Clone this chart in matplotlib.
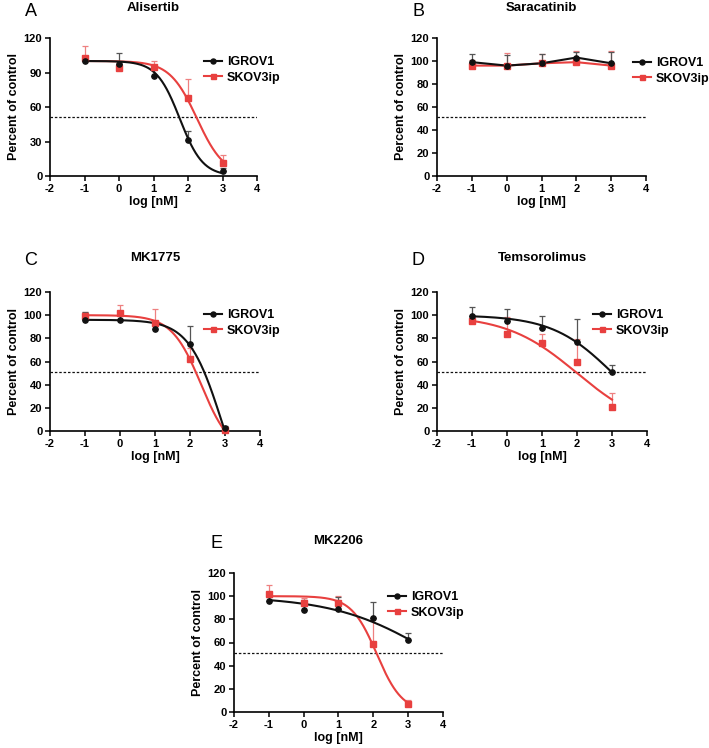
import matplotlib
matplotlib.use("Agg")
import matplotlib.pyplot as plt
import numpy as np

plt.rcParams["font.family"] = ["Liberation Sans", "DejaVu Sans"]
plt.rcParams["font.weight"] = "bold"
plt.rcParams["axes.labelweight"] = "bold"
plt.rcParams["axes.unicode_minus"] = False

W, H = 709, 748

# ---------------- data ----------------
LOG_DOSE = [-1, 0, 1, 2, 3]
SERIES = ["IGROV1", "SKOV3ip"]

ALI_IGROV1 = [100, 97, 87, 31, 4]
ALI_IGROV1_SD = [4, 10, 7, 8, 3]
ALI_SKOV3IP = [103, 94, 95, 68, 11]
ALI_SKOV3IP_SD = [10, 3, 5, 16, 7]

SAR_IGROV1 = [99, 96, 98, 103, 98]
SAR_IGROV1_SD = [7, 9, 8, 5, 10]
SAR_SKOV3IP = [96, 96, 98, 99, 96]
SAR_SKOV3IP_SD = [5, 11, 8, 10, 13]

MK1775_IGROV1 = [96, 96, 88, 75, 3]
MK1775_IGROV1_SD = [7, 8, 3, 16, 1]
MK1775_SKOV3IP = [99, 102, 93, 62, 0.5]
MK1775_SKOV3IP_SD = [4, 7, 12, 10, 1]

TEM_IGROV1 = [99, 95, 89, 77, 51]
TEM_IGROV1_SD = [8, 10, 10, 20, 6]
TEM_SKOV3IP = [95, 84, 76, 60, 21]
TEM_SKOV3IP_SD = [4, 14, 8, 19, 12]

MK2206_IGROV1 = [96, 88, 89, 81, 62]
MK2206_IGROV1_SD = [3, 9, 10, 14, 6]
MK2206_SKOV3IP = [102, 94, 94, 59, 7]
MK2206_SKOV3IP_SD = [8, 4, 6, 22, 3]

# fitted dose-response parameters: (top, bottom, logIC50, hill slope)
ALI_FIT = [(100, 0, 1.76, 1.3), (100, 0, 2.26, 1.1)]
MK1775_FIT = [(96, -80, 2.91, 0.92), (100, -20, 2.32, 1.03)]
TEM_FIT = [(100, 0, 3.02, 0.5), (100, 0, 2.0, 0.43)]
MK2206_FIT = [(100, 0, 3.755, 0.306), (100, 0, 2.1, 1.19)]

HALF_LINE = 51

# ---------------- style ----------------
BLACK = "#111111"
RED = "#E8403F"
COLORS = [BLACK, RED]
ERR_COLORS = ["#555555", "#EE8080"]
MARKERS = ["o", "s"]


def logistic(x, top, bottom, logic50, hill):
    return bottom + (top - bottom) / (1 + 10 ** ((x - logic50) * hill))


def px_rect(left, top, right, bottom):
    return [left / W, 1 - bottom / H, (right - left) / W, (bottom - top) / H]


PANELS = [
    # letter, title, rect(px), means, sds, fits, yticks, letter xy, legend xy
    ("A", "Alisertib", (50, 38, 257, 176),
     [ALI_IGROV1, ALI_SKOV3IP], [ALI_IGROV1_SD, ALI_SKOV3IP_SD], ALI_FIT,
     [0, 30, 60, 90, 120], (31, 11), (204, 70)),
    ("B", "Saracatinib", (437, 38, 646, 176),
     [SAR_IGROV1, SAR_SKOV3IP], [SAR_IGROV1_SD, SAR_SKOV3IP_SD], None,
     [0, 20, 40, 60, 80, 100, 120], (418, 11), (633, 71)),
    ("C", "MK1775", (50, 292, 260, 431),
     [MK1775_IGROV1, MK1775_SKOV3IP], [MK1775_IGROV1_SD, MK1775_SKOV3IP_SD],
     MK1775_FIT, [0, 20, 40, 60, 80, 100, 120], (31, 261), (204, 323)),
    ("D", "Temsorolimus", (437, 292, 647, 431),
     [TEM_IGROV1, TEM_SKOV3IP], [TEM_IGROV1_SD, TEM_SKOV3IP_SD], TEM_FIT,
     [0, 20, 40, 60, 80, 100, 120], (418, 261), (593, 323)),
    ("E", "MK2206", (234, 573, 443, 712),
     [MK2206_IGROV1, MK2206_SKOV3IP], [MK2206_IGROV1_SD, MK2206_SKOV3IP_SD],
     MK2206_FIT, [0, 20, 40, 60, 80, 100, 120], (216, 544), (388, 605)),
]

fig = plt.figure(figsize=(W / 100, H / 100), dpi=100)
x = np.array(LOG_DOSE, dtype=float)
xs = np.linspace(-1, 3, 300)

for letter, title, rect, means, sds, fits, yticks, lxy, legxy in PANELS:
    ax = fig.add_axes(px_rect(*rect))
    ax.axhline(HALF_LINE, color=BLACK, linestyle=(0, (2, 1.5)), linewidth=0.9)

    handles = []
    for i in (1, 0):
        m = np.array(means[i], dtype=float)
        sd = np.array(sds[i], dtype=float)
        ax.errorbar(x, m, yerr=[np.zeros_like(sd), sd], fmt="none",
                    ecolor=ERR_COLORS[i], elinewidth=0.9, capsize=2.2,
                    capthick=0.9, clip_on=False, zorder=2)
        if fits is None:
            ax.plot(x, m, color=COLORS[i], linewidth=1.5, zorder=3)
        else:
            ax.plot(xs, logistic(xs, *fits[i]), color=COLORS[i],
                    linewidth=1.5, zorder=3)
        ax.plot(x, m, linestyle="none", marker=MARKERS[i], ms=3.8,
                color=COLORS[i], clip_on=False, zorder=4)

    for i in range(2):
        h, = ax.plot([], [], color=COLORS[i], linewidth=1.5,
                     marker=MARKERS[i], ms=3.6)
        handles.append(h)

    ax.set_xlim(-2, 4)
    ax.set_ylim(0, 120)
    ax.set_xticks([-2, -1, 0, 1, 2, 3, 4])
    ax.set_yticks(yticks)
    for side in ("top", "right"):
        ax.spines[side].set_visible(False)
    for side in ("left", "bottom"):
        ax.spines[side].set_linewidth(1.2)
    ax.tick_params(direction="out", length=3.5, width=1.1, labelsize=8,
                   pad=2)
    for lab in ax.get_xticklabels() + ax.get_yticklabels():
        lab.set_fontweight("bold")
    ax.set_xlabel("log [nM]", fontsize=9, labelpad=2)
    ax.set_ylabel("Percent of control", fontsize=9, labelpad=3)

    cx = (rect[0] + rect[2]) / 2
    fig.text(cx / W, 1 - (lxy[1] - 3) / H, title, fontsize=9.5,
             fontweight="bold", ha="center", va="center")
    fig.text(lxy[0] / W, 1 - lxy[1] / H, letter, fontsize=13,
             fontweight="normal", ha="center", va="center")

    leg = ax.legend(handles, SERIES, loc="center left",
                    bbox_to_anchor=(legxy[0] / W, 1 - legxy[1] / H),
                    bbox_transform=fig.transFigure, frameon=False,
                    fontsize=9, handlelength=1.45, handletextpad=0.4,
                    labelspacing=0.25, borderpad=0, borderaxespad=0)
    for t in leg.get_texts():
        t.set_fontweight("bold")

fig.savefig("out.png", dpi=100)
